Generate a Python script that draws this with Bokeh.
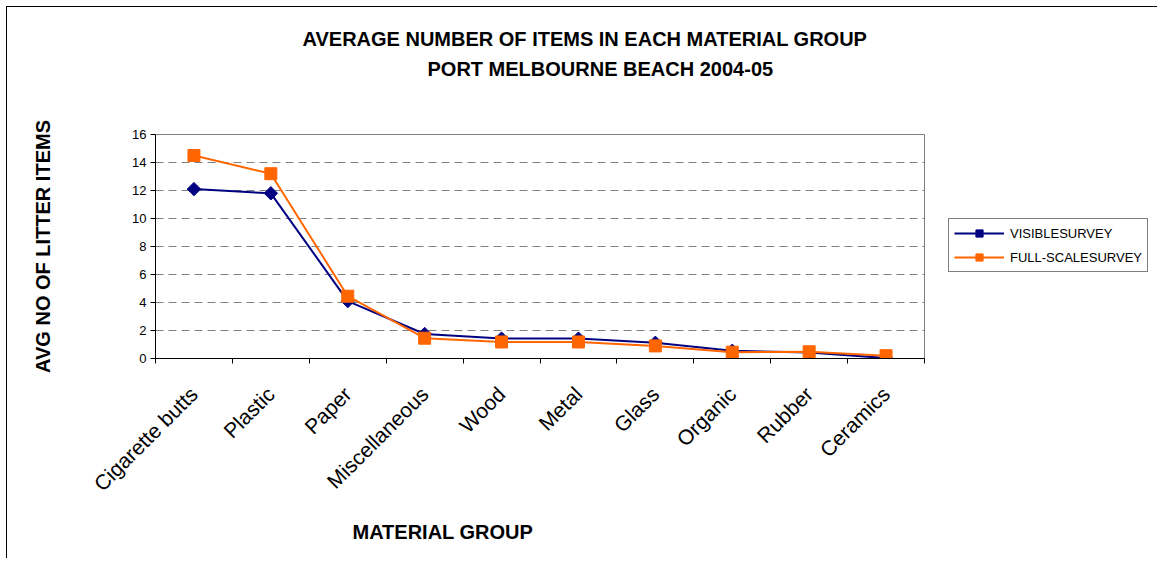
import math
from bokeh.plotting import figure
from bokeh.layouts import row
from bokeh.models import Range1d, FixedTicker, Legend, LegendItem, Title
from bokeh.embed import file_html
from bokeh.resources import INLINE

categories = ["Cigarette butts", "Plastic", "Paper", "Miscellaneous", "Wood",
              "Metal", "Glass", "Organic", "Rubber", "Ceramics"]
visible_survey = [12.1, 11.8, 4.1, 1.75, 1.42, 1.42, 1.12, 0.55, 0.42, 0.03]
full_scale_survey = [14.5, 13.2, 4.45, 1.45, 1.18, 1.18, 0.9, 0.45, 0.48, 0.2]
y_ticks = [0, 2, 4, 6, 8, 10, 12, 14, 16]
series_names = ["VISIBLESURVEY", "FULL-SCALESURVEY"]

title_line1 = "AVERAGE NUMBER OF ITEMS IN EACH MATERIAL GROUP"
title_line2 = "PORT MELBOURNE BEACH 2004-05"
x_title = "MATERIAL GROUP"
y_title = "AVG NO OF LITTER ITEMS"

NAVY = "#000080"
ORANGE = "#FF6600"
FONT = "Liberation Sans"

n = len(categories)
xs = [i + 0.5 for i in range(n)]

p = figure(width=927, height=551, output_backend="svg", toolbar_location=None,
           x_range=Range1d(0, n), y_range=Range1d(0, 16),
           min_border_left=148, min_border_right=10, min_border_top=127,
           min_border_bottom=200)

p.outline_line_color = "#808080"
p.outline_line_width = 1

# grid
p.xgrid.visible = False
p.ygrid.ticker = FixedTicker(ticks=y_ticks)
p.ygrid.grid_line_color = "#808080"
p.ygrid.grid_line_dash = "8 5"
p.ygrid.grid_line_width = 1

# y axis
p.yaxis.ticker = FixedTicker(ticks=y_ticks)
p.yaxis.axis_line_color = "black"
p.yaxis.major_tick_line_color = "black"
p.yaxis.major_tick_out = 5
p.yaxis.major_tick_in = 0
p.yaxis.minor_tick_line_color = None
p.yaxis.major_label_text_font = FONT
p.yaxis.major_label_text_font_size = "13px"
p.yaxis.major_label_text_color = "black"
p.yaxis.major_label_standoff = 4
p.yaxis.axis_label = y_title
p.yaxis.axis_label_text_font = FONT
p.yaxis.axis_label_text_font_size = "20px"
p.yaxis.axis_label_text_font_style = "bold"
p.yaxis.axis_label_text_color = "black"
p.yaxis.axis_label_standoff = 75

# x axis: labels at category centres, tick marks at category boundaries
p.xaxis.ticker = FixedTicker(ticks=xs, minor_ticks=list(range(n + 1)))
p.xaxis.major_label_overrides = {x: c for x, c in zip(xs, categories)}
p.xaxis.major_label_orientation = math.pi / 4
p.xaxis.major_tick_line_color = None
p.xaxis.major_tick_out = 0
p.xaxis.major_tick_in = 0
p.xaxis.minor_tick_line_color = "black"
p.xaxis.minor_tick_out = 5
p.xaxis.minor_tick_in = 0
p.xaxis.axis_line_color = "black"
p.xaxis.major_label_text_font = FONT
p.xaxis.major_label_text_font_size = "21px"
p.xaxis.major_label_text_color = "black"
p.xaxis.major_label_standoff = 27

# series
p.line(xs, visible_survey, line_color=NAVY, line_width=2)
p.scatter(xs, visible_survey, marker="square", angle=math.pi / 4, size=9.5,
          fill_color=NAVY, line_color=NAVY)
p.line(xs, full_scale_survey, line_color=ORANGE, line_width=2)
p.scatter(xs, full_scale_survey, marker="square", size=12,
          fill_color=ORANGE, line_color=ORANGE)

# titles (above panels stack outward from the frame; p.title is outermost)
spacer = Title(text=" ", text_font=FONT, text_font_size="20px", standoff=29)
p.add_layout(spacer, "above")

t2 = Title(text=title_line2, align="left", offset=272, text_font=FONT,
           text_font_size="20px", text_font_style="bold", text_color="black",
           standoff=4)
p.add_layout(t2, "above")

p.title.text = title_line1
p.title.align = "left"
p.title.offset = 147
p.title.text_font = FONT
p.title.text_font_size = "20px"
p.title.text_font_style = "bold"
p.title.text_color = "black"
p.title.standoff = 8

tx = Title(text=x_title, align="left", offset=197, text_font=FONT,
           text_font_size="20px", text_font_style="bold", text_color="black",
           standoff=24)
p.add_layout(tx, "below")

# legend panel to the right of the chart; its renderers are hidden and only
# supply the legend swatches. The row layout aligns its frame with the chart's.
q = figure(width=223, height=551, output_backend="svg", toolbar_location=None,
           x_axis_type=None, y_axis_type=None, min_border=0,
           x_range=Range1d(0, n), y_range=Range1d(0, 16))
q.outline_line_color = None
q.title.visible = False
ql1 = q.line(xs, visible_survey, line_color=NAVY, line_width=2, visible=False)
qs1 = q.scatter(xs, visible_survey, marker="square", angle=math.pi / 4,
                size=9.5, fill_color=NAVY, line_color=NAVY, visible=False)
ql2 = q.line(xs, full_scale_survey, line_color=ORANGE, line_width=2,
             visible=False)
qs2 = q.scatter(xs, full_scale_survey, marker="square", size=12,
                fill_color=ORANGE, line_color=ORANGE, visible=False)

legend = Legend(items=[LegendItem(label=series_names[0], renderers=[ql1, qs1]),
                       LegendItem(label=series_names[1], renderers=[ql2, qs2])],
                location=(14, 86), margin=0, padding=5, spacing=6,
                glyph_width=50, glyph_height=18, label_height=18,
                label_standoff=6, label_text_font=FONT,
                label_text_font_size="13px", label_text_color="black",
                border_line_color="black", border_line_width=1,
                background_fill_color="white",
                inactive_fill_alpha=0.0, click_policy="none")
q.add_layout(legend, "center")

layout = row(p, q, spacing=0)
layout.styles = {"margin-left": "6px", "margin-top": "6px",
                 "border-left": "1px solid black", "border-top": "1px solid black"}

open("out.html", "w").write(file_html(layout, INLINE))
